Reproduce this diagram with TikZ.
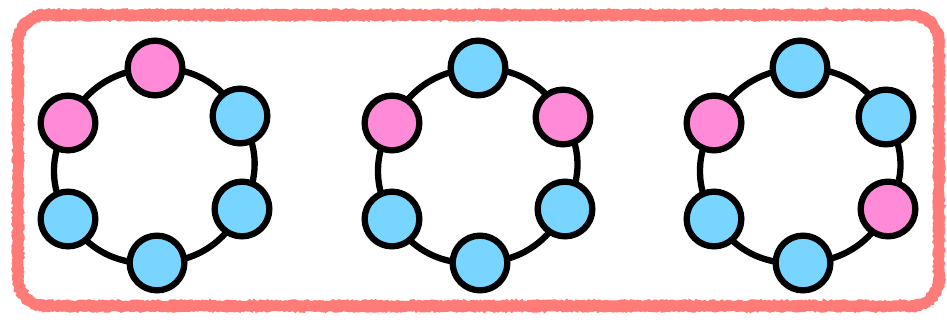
\documentclass[tikz,border=0pt]{standalone}
\usetikzlibrary{decorations.pathmorphing,backgrounds}
\definecolor{pinkn}{HTML}{FF8AD8}
\definecolor{bluen}{HTML}{77D5FF}
\definecolor{frame}{HTML}{FF7B77}
\tikzset{
  ball/.style={circle, draw=black, line width=6.3pt, minimum size=54.7pt, inner sep=0pt},
  pinkball/.style={ball, fill=pinkn},
  blueball/.style={ball, fill=bluen},
  ring/.style={draw=black, line width=6.3pt, bend left=30},
  roughframe/.style={draw=frame, line width=#1,
    decoration={random steps, segment length=2pt, amplitude=1pt}},
}
\begin{document}
\begin{tikzpicture}[x=1pt,y=1pt]
\useasboundingbox (0,0) rectangle (947,320);
\pgfmathsetseed{7}
% frame
\draw[draw=frame, line width=9pt, rounded corners=28pt] (18,14) rectangle (939,305);
\draw[roughframe=3.5pt] decorate {[rounded corners=32pt] (14,10) rectangle (943,309)};
\draw[roughframe=3.5pt] decorate {[rounded corners=24pt] (22,18) rectangle (935,301)};
% ring 1
\node[pinkball] (a1) at (155,252) {};
\node[blueball] (a2) at (240,204) {};
\node[blueball] (a3) at (242,111) {};
\node[blueball] (a4) at (157,57) {};
\node[blueball] (a5) at (68,101) {};
\node[pinkball] (a6) at (68,197) {};
% ring 2
\node[blueball] (b1) at (478,252) {};
\node[pinkball] (b2) at (563,203) {};
\node[blueball] (b3) at (565,111) {};
\node[blueball] (b4) at (480,57) {};
\node[blueball] (b5) at (392,101) {};
\node[pinkball] (b6) at (392,197) {};
% ring 3
\node[blueball] (c1) at (800,252) {};
\node[blueball] (c2) at (886,203) {};
\node[pinkball] (c3) at (888,111) {};
\node[blueball] (c4) at (803,57) {};
\node[blueball] (c5) at (714,101) {};
\node[pinkball] (c6) at (714,197) {};
% connectors (arcs of the ring through the node centres, behind the nodes)
\begin{pgfonlayer}{background}
\foreach \r in {a,b,c}{
  \draw[ring] (\r1.center) to (\r2.center);
  \draw[ring] (\r2.center) to (\r3.center);
  \draw[ring] (\r3.center) to (\r4.center);
  \draw[ring] (\r4.center) to (\r5.center);
  \draw[ring] (\r5.center) to (\r6.center);
  \draw[ring] (\r6.center) to (\r1.center);
}
\end{pgfonlayer}
\end{tikzpicture}
\end{document}
